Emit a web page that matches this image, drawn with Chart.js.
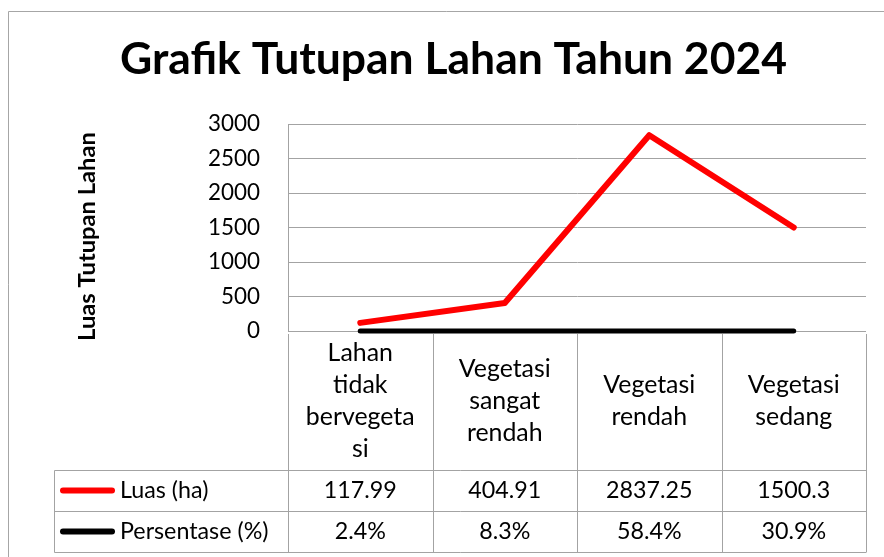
<!DOCTYPE html>
<html><head><meta charset="utf-8">
<script src="https://cdn.jsdelivr.net/npm/chart.js@4"></script>
<style>html,body{margin:0;padding:0;background:#fff;}canvas{display:block;}</style>
</head><body>
<canvas id="c" width="884" height="557"></canvas>
<script>
// ---- data ----
const chartTitle = 'Grafik Tutupan Lahan Tahun 2024';
const yAxisTitle = 'Luas Tutupan Lahan';
const categories = [
  ['Lahan', 'tidak', 'bervegeta', 'si'],
  ['Vegetasi', 'sangat', 'rendah'],
  ['Vegetasi', 'rendah'],
  ['Vegetasi', 'sedang']
];
const seriesNames = ['Luas (ha)', 'Persentase (%)'];
const luasValues = [117.99, 404.91, 2837.25, 1500.3];
const persenValues = [0.024, 0.083, 0.584, 0.309];
const yTicks = [0, 500, 1000, 1500, 2000, 2500, 3000];

// ---- styles ----
const F = 'Lato, "Open Sans", sans-serif';
const GRID = '#a3a3a3';
const mctx = document.createElement('canvas').getContext('2d');
function fit(text, weight, target) {
  mctx.font = weight + ' 100px ' + F;
  return 100 * target / mctx.measureText(text).width;
}
const titleSize = fit(chartTitle, 'bold', 667);
const yTitleSize = fit(yAxisTitle, 'bold', 209);
const bodySize = fit('Vegetasi', 'normal', 92);
const tickSize = fit('3000', 'normal', 52);
const valueSize = fit('117.99', 'normal', 73);

const CAT_H = 139, ROW_H = 41, TABLE_LEFT = 54, LINE_H = 32;
const seriesColors = ['#ff0000', '#000000'];

const fmtLuas = v => String(v);
const fmtPct = v => (v * 100).toFixed(1) + '%';

const decor = {
  id: 'decor',
  afterDraw(chart) {
    const ctx = chart.ctx;
    const a = chart.chartArea;
    const xs = chart.scales.x;
    const n = categories.length;
    const colW = (a.right - a.left) / n;
    const px = v => Math.round(v) + 0.5;
    ctx.save();
    // outer frame
    ctx.strokeStyle = '#a6a6a6';
    ctx.lineWidth = 1;
    ctx.beginPath();
    ctx.moveTo(px(8), 557); ctx.lineTo(px(8), px(11)); ctx.lineTo(884, px(11));
    ctx.stroke();
    // title
    ctx.fillStyle = '#000';
    ctx.font = 'bold ' + titleSize + 'px ' + F;
    ctx.textAlign = 'center';
    ctx.textBaseline = 'alphabetic';
    ctx.fillText(chartTitle, 453.5, 74);
    // y title
    ctx.save();
    ctx.translate(95, 236.5);
    ctx.rotate(-Math.PI / 2);
    ctx.font = 'bold ' + yTitleSize + 'px ' + F;
    ctx.fillText(yAxisTitle, 0, 0);
    ctx.restore();
    // table lines
    const B = a.bottom;
    const r1 = B + CAT_H, r2 = r1 + ROW_H, r3 = r2 + ROW_H;
    ctx.strokeStyle = GRID;
    ctx.lineWidth = 1;
    ctx.beginPath();
    for (let i = 0; i <= n; i++) {
      const x = px(a.left + i * colW);
      ctx.moveTo(x, B + 3); ctx.lineTo(x, px(r3));
    }
    ctx.moveTo(px(TABLE_LEFT), px(r1)); ctx.lineTo(px(TABLE_LEFT), px(r3));
    [r1, r2, r3].forEach(y => { ctx.moveTo(px(TABLE_LEFT), px(y)); ctx.lineTo(a.right, px(y)); });
    ctx.stroke();
    // category labels
    ctx.fillStyle = '#000';
    ctx.font = bodySize + 'px ' + F;
    ctx.textAlign = 'center';
    ctx.textBaseline = 'middle';
    categories.forEach((lines, i) => {
      const cx = xs.getPixelForValue(i);
      const cy = B + CAT_H / 2;
      const start = cy - (lines.length - 1) * LINE_H / 2;
      lines.forEach((t, k) => ctx.fillText(t, cx, start + k * LINE_H));
    });
    // data rows
    const rows = [luasValues.map(fmtLuas), persenValues.map(fmtPct)];
    ctx.font = valueSize + 'px ' + F;
    rows.forEach((vals, r) => {
      const cy = r1 + ROW_H * r + ROW_H / 2;
      vals.forEach((t, i) => {
        ctx.textAlign = 'center';
        ctx.fillText(t, xs.getPixelForValue(i), cy);
      });
      // legend key
      ctx.strokeStyle = seriesColors[r];
      ctx.lineWidth = 6;
      ctx.lineCap = 'round';
      ctx.beginPath(); ctx.moveTo(63, cy); ctx.lineTo(112, cy); ctx.stroke();
      ctx.textAlign = 'left';
      ctx.fillText(seriesNames[r], 120, cy);
    });
    ctx.restore();
  }
};

new Chart(document.getElementById('c'), {
  type: 'line',
  data: {
    labels: categories.map(c => c.join('')),
    datasets: [
      { label: seriesNames[0], data: luasValues, borderColor: seriesColors[0], borderWidth: 6, clip: false },
      { label: seriesNames[1], data: persenValues, borderColor: seriesColors[1], borderWidth: 5, clip: false }
    ]
  },
  options: {
    responsive: false,
    animation: false,
    devicePixelRatio: 1,
    layout: { padding: { left: 0, right: 18, top: 124, bottom: 226 } },
    plugins: { legend: { display: false }, tooltip: { enabled: false }, title: { display: false } },
    elements: {
      point: { radius: 0, hoverRadius: 0 },
      line: { tension: 0, borderCapStyle: 'round', borderJoinStyle: 'round', fill: false }
    },
    scales: {
      x: { type: 'category', display: false, offset: true },
      y: {
        min: 0, max: 3000,
        afterBuildTicks: s => { s.ticks = yTicks.map(v => ({ value: v })); },
        afterFit: s => { s.width = 288; },
        ticks: { padding: 28, color: '#000', font: { family: F, size: tickSize }, callback: v => String(v) },
        grid: { color: GRID, drawTicks: false, lineWidth: 1 },
        border: { display: true, color: GRID }
      }
    }
  },
  plugins: [decor]
});
</script>
</body></html>
